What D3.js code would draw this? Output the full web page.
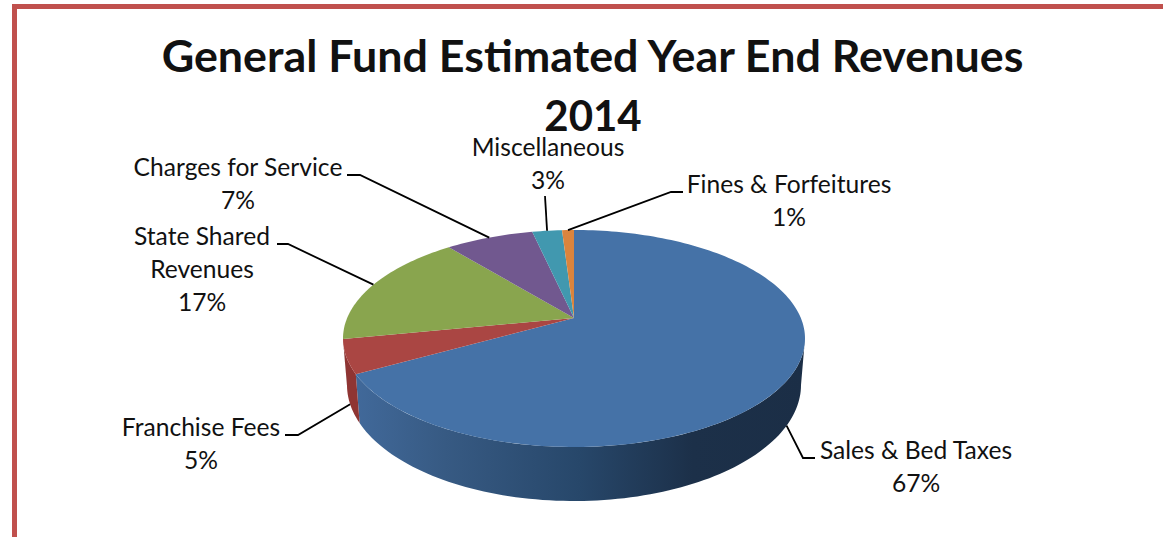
<!DOCTYPE html>
<html>
<head>
<meta charset="utf-8">
<script src="https://cdn.jsdelivr.net/npm/d3@7"></script>
<style>
  html, body { margin: 0; padding: 0; background: #fff; overflow: hidden; }
  svg { display: block; }
  text { font-family: Lato, "Open Sans", sans-serif; fill: #111; }
</style>
</head>
<body>
<script>
// chart values
const categories = ["Sales & Bed Taxes", "Franchise Fees", "State Shared Revenues", "Charges for Service", "Miscellaneous", "Fines & Forfeitures"];
const shares = [66.9, 5.0, 17.2, 7.4, 2.5, 1.0];
const titleLines = ["General Fund Estimated Year End Revenues", "2014"];

const topColors = ["#4572a7", "#aa4643", "#89a54e", "#71588f", "#4198af", "#db843d"];

// label placement: wrapped lines, centre, first baseline, leader elbow
const labelLayout = [
  { lines: ["Sales & Bed Taxes"], x: 916, y: 459, elbow: [[803, 458], [815, 458]], rim: "bottom" },
  { lines: ["Franchise Fees"], x: 201, y: 436, elbow: [[298, 435], [285, 435]], rim: "bottom" },
  { lines: ["State Shared", "Revenues"], x: 202, y: 245, elbow: [[288, 244], [277, 244]], rim: "top" },
  { lines: ["Charges for Service"], x: 238, y: 176, elbow: [[360, 175], [347, 175]], rim: "top" },
  { lines: ["Miscellaneous"], x: 548, y: 156, elbow: [[545, 196]], rim: "top" },
  { lines: ["Fines & Forfeitures"], x: 789, y: 193, elbow: [[671, 192], [683, 192]], rim: "top" }
];

const width = 1163, height = 537;

const svg = d3.select("body").append("svg")
  .attr("width", width)
  .attr("height", height);

// red frame, open at the right and the bottom
svg.append("path")
  .attr("d", `M14.5,${height} V6.5 H${width}`)
  .attr("fill", "none")
  .attr("stroke", "#c0504d")
  .attr("stroke-width", 5);

// the two rims of the disc, seen in perspective
const rims = {
  top: { cx: 574, cy: 338.5, rx: 231, ry: 108.5 },
  bottom: { cx: 574, cy: 385, rx: 227, ry: 116 }
};
const tilt = 0.189;

// angle on the disc -> point on the picture
function project(rim, angle, r = 1) {
  const u = r * Math.sin(angle), v = r * Math.cos(angle);
  const w = 1 + tilt * v;
  return [
    rim.cx + rim.rx * Math.sqrt(1 - tilt * tilt) * u / w,
    rim.cy - rim.ry * (v + tilt) / w
  ];
}

function arcPoints(rim, a0, a1) {
  const n = Math.max(2, Math.ceil(Math.abs(a1 - a0) * 40));
  return d3.range(n + 1).map((i) => project(rim, a0 + (a1 - a0) * i / n));
}

const pie = d3.pie().sort(null);
const slices = pie(shares);
const line = d3.line();

const defs = svg.append("defs");
const sideGrad = defs.append("linearGradient")
  .attr("id", "sideBlue")
  .attr("gradientUnits", "userSpaceOnUse")
  .attr("x1", 355).attr("x2", 805).attr("y1", 0).attr("y2", 0);
[[0, "#41699a"], [0.2, "#375a83"], [0.5, "#27476a"], [0.75, "#1c3049"], [1, "#1b2e46"]].forEach((s) => {
  sideGrad.append("stop").attr("offset", s[0]).attr("stop-color", s[1]);
});
const sideColors = ["url(#sideBlue)", "#8f3533"];

// side wall: only the front part of the disc shows one, between the widest points
const frontStart = Math.acos(-tilt), frontEnd = 2 * Math.PI - frontStart;
slices.forEach((d, i) => {
  const a0 = Math.max(d.startAngle, frontStart), a1 = Math.min(d.endAngle, frontEnd);
  if (a1 <= a0) return;
  const pts = arcPoints(rims.top, a0, a1).concat(arcPoints(rims.bottom, a1, a0));
  svg.append("path")
    .attr("d", line(pts) + "Z")
    .attr("fill", sideColors[i]);
});

// title goes under the labels
svg.append("g").selectAll("text")
  .data(titleLines)
  .join("text")
  .attr("x", (d, i) => i ? 593 : 592.5)
  .attr("y", (d, i) => i ? 131 : 72)
  .attr("text-anchor", "middle")
  .attr("font-size", (d, i) => i ? 42 : 44.8)
  .attr("font-weight", 700)
  .text((d) => d);

// top faces
svg.append("g").selectAll("path")
  .data(slices)
  .join("path")
  .attr("fill", (d, i) => topColors[i])
  .attr("d", (d) => line([project(rims.top, 0, 0)].concat(arcPoints(rims.top, d.startAngle, d.endAngle))) + "Z");

// leaders
const leader = svg.append("g").attr("fill", "none").attr("stroke", "#000").attr("stroke-width", 1.8);
slices.forEach((d, i) => {
  const mid = (d.startAngle + d.endAngle) / 2;
  const l = labelLayout[i];
  leader.append("path").attr("d", line([project(rims[l.rim], mid)].concat(l.elbow)));
});

// labels
const pct = d3.format(".0f");
slices.forEach((d, i) => {
  const l = labelLayout[i];
  const rows = l.lines.concat(Math.round(d.value) + "%");
  svg.append("g").selectAll("text")
    .data(rows)
    .join("text")
    .attr("x", l.x)
    .attr("y", (t, j) => l.y + j * 33)
    .attr("text-anchor", "middle")
    .attr("font-size", 24.6)
    .text((t) => t);
});
</script>
</body>
</html>
